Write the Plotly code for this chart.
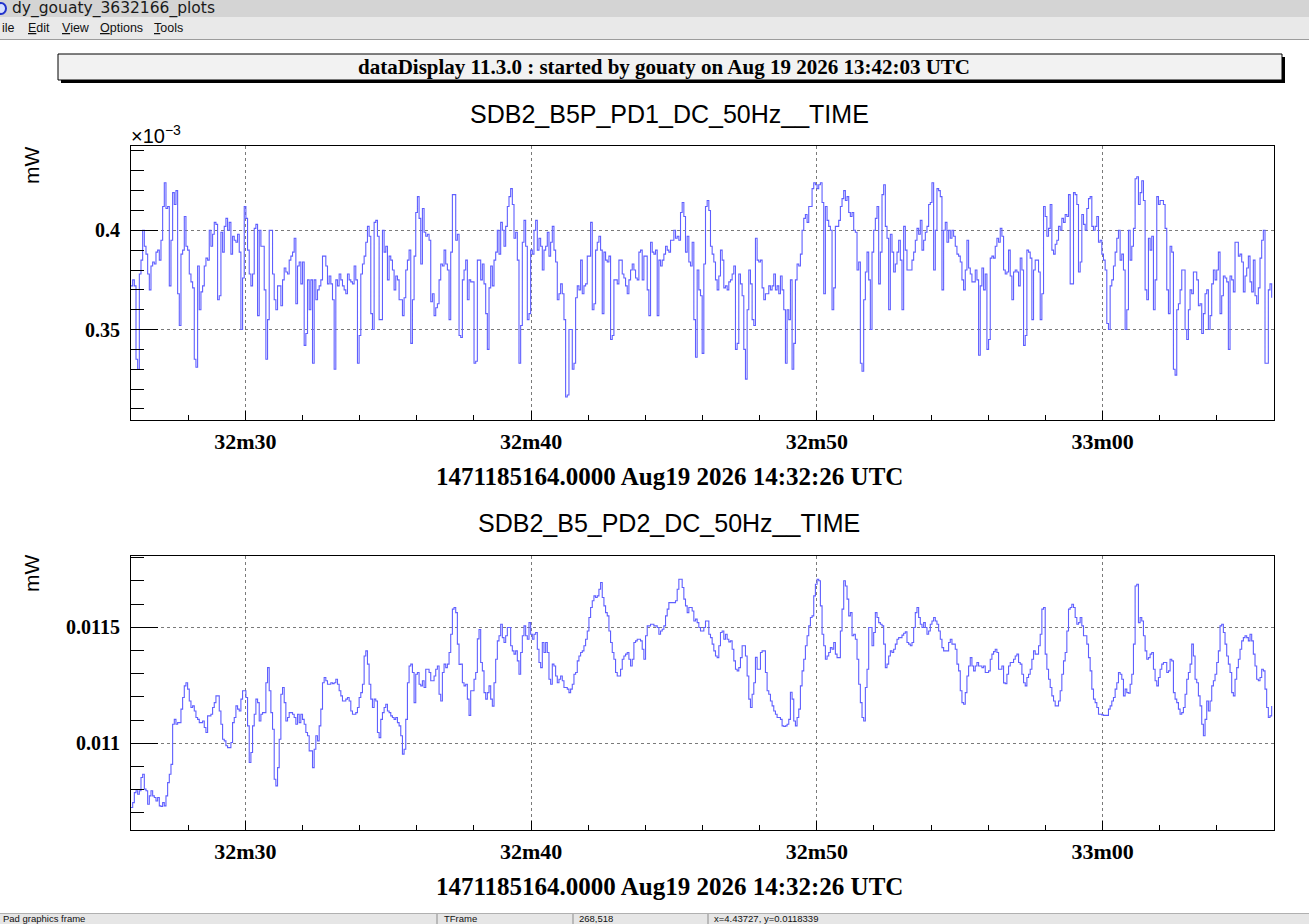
import numpy as np
import pandas as pd
import plotly.graph_objects as go

# ---------------- text content ----------------
WINDOW_TITLE = "dy_gouaty_3632166_plots"
MENU_ITEMS = ["ile", "<u>E</u>dit", "<u>V</u>iew", "<u>O</u>ptions", "<u>T</u>ools"]
HEADER = "dataDisplay 11.3.0 : started by gouaty on Aug 19 2026 13:42:03 UTC"
TITLES = ["SDB2_B5P_PD1_DC_50Hz__TIME", "SDB2_B5_PD2_DC_50Hz__TIME"]
X_TITLE = "1471185164.0000 Aug19 2026 14:32:26 UTC"
Y_UNIT = "mW"
STATUS = ["Pad graphics frame", "TFrame", "268,518", "x=4.43727, y=0.0118339"]

# ---------------- time base ----------------
T_START = "2026-08-19 14:32:26"
T_END = "2026-08-19 14:33:06"
T_FIRST_TICK = "2026-08-19 14:32:30"
SAMPLE_RATE_HZ = 17.16

# ---------------- SDB2_B5P_PD1 (units of 1e-3 mW), by 10 s block ----------------
pd1_32m26 = [
    0.372, 0.375, 0.372, 0.335, 0.330, 0.378, 0.385, 0.400, 0.392, 0.388,
    0.378, 0.370, 0.382, 0.384, 0.383, 0.389, 0.390, 0.385, 0.395, 0.412,
    0.424, 0.411, 0.412, 0.372, 0.395, 0.419, 0.413, 0.420, 0.368, 0.352,
    0.388, 0.390, 0.407, 0.392, 0.390, 0.378, 0.374, 0.371, 0.335, 0.331,
    0.382, 0.360, 0.369, 0.372, 0.382, 0.386, 0.385, 0.400, 0.392, 0.398,
    0.404, 0.403, 0.365, 0.367, 0.399, 0.389, 0.402, 0.406, 0.400, 0.404,
    0.388, 0.397, 0.395, 0.394, 0.398, 0.389, 0.350, 0.376, 0.412, 0.406,
    0.390, 0.378, 0.372, 0.378, 0.401, 0.403, 0.357, 0.400, 0.392, 0.392,
    0.370, 0.335, 0.355, 0.400, 0.400, 0.378, 0.365, 0.360, 0.372, 0.372,
    0.362, 0.375, 0.381, 0.379, 0.378, 0.385, 0.387, 0.389, 0.396, 0.363,
    0.382, 0.384, 0.373, 0.384, 0.342, 0.348, 0.375, 0.360, 0.375, 0.333,
    0.375, 0.365, 0.370, 0.372, 0.375, 0.387, 0.387, 0.382, 0.373, 0.377,
    0.373, 0.365, 0.330, 0.375, 0.372, 0.378, 0.375, 0.372, 0.370, 0.368,
    0.378, 0.375, 0.374, 0.373, 0.382, 0.375, 0.333, 0.347, 0.378, 0.383,
    0.387, 0.394, 0.402, 0.397, 0.358, 0.350, 0.404, 0.405, 0.397, 0.355,
    0.355, 0.400, 0.389, 0.392, 0.375, 0.387, 0.385, 0.380, 0.370, 0.377,
    0.375, 0.365, 0.365, 0.357, 0.366, 0.380, 0.385, 0.390, 0.343, 0.365,
    0.387, 0.409, 0.417, 0.406, 0.383,
]
pd1_32m36 = [
    0.411, 0.399, 0.397, 0.398, 0.395, 0.364, 0.368, 0.357, 0.361, 0.363,
    0.375, 0.383, 0.382, 0.390, 0.383, 0.380, 0.355, 0.389, 0.418, 0.418,
    0.395, 0.398, 0.347, 0.346, 0.375, 0.380, 0.385, 0.365, 0.375, 0.374,
    0.374, 0.333, 0.334, 0.385, 0.385, 0.375, 0.383, 0.373, 0.358, 0.340,
    0.371, 0.382, 0.372, 0.385, 0.389, 0.400, 0.388, 0.404, 0.400, 0.392,
    0.402, 0.412, 0.417, 0.421, 0.413, 0.396, 0.399, 0.385, 0.333, 0.352,
    0.394, 0.405, 0.392, 0.355, 0.358, 0.390, 0.388, 0.400, 0.405, 0.390,
    0.396, 0.392, 0.380, 0.390, 0.392, 0.399, 0.387, 0.394, 0.402, 0.390,
    0.384, 0.365, 0.368, 0.373, 0.368, 0.355, 0.316, 0.317, 0.350, 0.350,
    0.330, 0.333, 0.366, 0.372, 0.370, 0.385, 0.368, 0.372, 0.373, 0.387,
    0.387, 0.404, 0.360, 0.363, 0.390, 0.394, 0.397, 0.390, 0.358, 0.389,
    0.385, 0.384, 0.387, 0.345, 0.347, 0.375, 0.375, 0.373, 0.385, 0.385,
    0.378, 0.376, 0.372, 0.368, 0.375, 0.380, 0.383, 0.380, 0.376, 0.375,
    0.389, 0.390, 0.375, 0.387, 0.387, 0.370, 0.357, 0.394, 0.389, 0.388,
    0.390, 0.357, 0.385, 0.382, 0.385, 0.388, 0.392, 0.390, 0.389, 0.395,
    0.395, 0.400, 0.396, 0.397, 0.395, 0.409, 0.414, 0.407, 0.389, 0.397,
    0.384, 0.382, 0.394, 0.355, 0.336, 0.380, 0.370, 0.367, 0.338, 0.383,
    0.412, 0.415,
]
pd1_32m46 = [
    0.410, 0.392, 0.388, 0.384, 0.375, 0.370, 0.377, 0.390, 0.385, 0.371,
    0.372, 0.370, 0.374, 0.375, 0.378, 0.382, 0.340, 0.343, 0.378, 0.373,
    0.367, 0.340, 0.325, 0.360, 0.380, 0.373, 0.355, 0.352, 0.396, 0.385,
    0.384, 0.385, 0.371, 0.365, 0.368, 0.368, 0.372, 0.370, 0.372, 0.378,
    0.370, 0.372, 0.368, 0.377, 0.370, 0.360, 0.333, 0.360, 0.355, 0.375,
    0.330, 0.343, 0.375, 0.383, 0.382, 0.388, 0.400, 0.406, 0.408, 0.404,
    0.412, 0.412, 0.421, 0.424, 0.423, 0.421, 0.423, 0.424, 0.414, 0.368,
    0.412, 0.405, 0.402, 0.400, 0.360, 0.371, 0.402, 0.402, 0.405, 0.412,
    0.416, 0.420, 0.415, 0.417, 0.409, 0.407, 0.409, 0.400, 0.399, 0.380,
    0.384, 0.333, 0.329, 0.365, 0.379, 0.389, 0.375, 0.350, 0.389, 0.400,
    0.406, 0.412, 0.373, 0.389, 0.418, 0.423, 0.402, 0.396, 0.360, 0.398,
    0.389, 0.379, 0.383, 0.389, 0.395, 0.385, 0.360, 0.402, 0.390, 0.380,
    0.380, 0.380, 0.385, 0.389, 0.395, 0.401, 0.398, 0.405, 0.390, 0.395,
    0.399, 0.402, 0.413, 0.414, 0.424, 0.380, 0.400, 0.421, 0.420, 0.417,
    0.370, 0.400, 0.404, 0.394, 0.400, 0.396, 0.400, 0.397, 0.392, 0.388,
    0.387, 0.384, 0.375, 0.370, 0.380, 0.395, 0.381, 0.378, 0.374, 0.374,
    0.380, 0.375, 0.337, 0.372, 0.381, 0.370, 0.378, 0.340, 0.345, 0.386,
    0.387, 0.386,
]
pd1_32m56 = [
    0.392, 0.396, 0.394, 0.401, 0.397, 0.380, 0.378, 0.379, 0.390, 0.377,
    0.365, 0.379, 0.380, 0.379, 0.372, 0.386, 0.380, 0.342, 0.347, 0.390,
    0.389, 0.386, 0.355, 0.380, 0.385, 0.385, 0.379, 0.355, 0.368, 0.412,
    0.407, 0.397, 0.401, 0.413, 0.390, 0.388, 0.393, 0.395, 0.402, 0.400,
    0.406, 0.404, 0.408, 0.407, 0.418, 0.373, 0.373, 0.419, 0.418, 0.413,
    0.379, 0.384, 0.408, 0.403, 0.400, 0.411, 0.416, 0.417, 0.402, 0.400,
    0.402, 0.407, 0.394, 0.395, 0.388, 0.385, 0.380, 0.353, 0.350, 0.372,
    0.375, 0.382, 0.389, 0.396, 0.400, 0.385, 0.388, 0.380, 0.350, 0.360,
    0.400, 0.385, 0.392, 0.401, 0.426, 0.427, 0.413, 0.419, 0.425, 0.415,
    0.370, 0.365, 0.396, 0.390, 0.397, 0.360, 0.375, 0.417, 0.413, 0.415,
    0.415, 0.413, 0.401, 0.370, 0.358, 0.392, 0.389, 0.330, 0.327, 0.360,
    0.363, 0.370, 0.380, 0.380, 0.350, 0.345, 0.360, 0.370, 0.368, 0.379,
    0.379, 0.375, 0.362, 0.363, 0.348, 0.358, 0.368, 0.370, 0.350, 0.357,
    0.373, 0.380, 0.375, 0.380, 0.389, 0.358, 0.367, 0.377, 0.376, 0.374,
    0.340, 0.377, 0.375, 0.369, 0.394, 0.394, 0.387, 0.388, 0.384, 0.369,
    0.377, 0.381, 0.387, 0.374, 0.369, 0.385, 0.367, 0.363, 0.371, 0.386,
    0.395, 0.400, 0.333, 0.333, 0.370, 0.373, 0.366,
]

# ---------------- SDB2_B5_PD2 (units of 1e-3 mW), by 10 s block ----------------
pd2_32m26 = [
    10.723, 10.744, 10.787, 10.795, 10.780, 10.795, 10.852, 10.866, 10.802, 10.795,
    10.737, 10.773, 10.795, 10.773, 10.766, 10.751, 10.766, 10.730, 10.727, 10.744,
    10.730, 10.773, 10.830, 10.866, 10.909, 11.082, 11.103, 11.082, 11.089, 11.089,
    11.147, 11.197, 11.247, 11.261, 11.233, 11.182, 11.154, 11.161, 11.139, 11.111,
    11.103, 11.089, 11.089, 11.096, 11.068, 11.046, 11.118, 11.118, 11.125, 11.154,
    11.175, 11.204, 11.204, 11.139, 11.082, 11.017, 11.010, 10.989, 10.981, 10.981,
    11.003, 11.089, 11.111, 11.161, 11.147, 11.139, 11.190, 11.226, 11.226, 11.197,
    11.075, 10.917, 10.960, 11.075, 11.125, 11.190, 11.175, 11.096, 11.125, 11.132,
    11.132, 11.261, 11.326, 11.226, 11.132, 11.060, 10.845, 10.816, 10.895, 11.017,
    11.211, 11.240, 11.175, 11.096, 11.111, 11.132, 11.132, 11.125, 11.111, 11.082,
    11.125, 11.089, 11.125, 11.103, 11.082, 11.046, 11.032, 10.967, 10.967, 10.895,
    10.974, 11.032, 11.010, 11.075, 11.147, 11.261, 11.283, 11.269, 11.254, 11.254,
    11.261, 11.257, 11.261, 11.276, 11.254, 11.226, 11.204, 11.182, 11.182, 11.190,
    11.197, 11.182, 11.139, 11.125, 11.125, 11.132, 11.154, 11.197, 11.218, 11.254,
    11.376, 11.398, 11.341, 11.254, 11.190, 11.154, 11.190, 11.182, 11.046, 11.024,
    11.103, 11.132, 11.154, 11.168, 11.139, 11.132, 11.118, 11.111, 11.103, 11.111,
    11.089, 11.075, 11.032, 10.953, 10.974, 11.103, 11.261, 11.333, 11.341, 11.305,
    11.175, 11.297, 11.305, 11.254, 11.247,
]
pd2_32m36 = [
    11.269, 11.240, 11.319, 11.319, 11.305, 11.269, 11.269, 11.290, 11.319, 11.333,
    11.211, 11.182, 11.305, 11.341, 11.326, 11.341, 11.391, 11.470, 11.578, 11.585,
    11.563, 11.427, 11.340, 11.341, 11.261, 11.247, 11.254, 11.190, 11.120, 11.226,
    11.226, 11.276, 11.305, 11.450, 11.490, 11.348, 11.312, 11.218, 11.190, 11.218,
    11.247, 11.190, 11.160, 11.261, 11.362, 11.441, 11.463, 11.513, 11.455, 11.434,
    11.463, 11.499, 11.499, 11.420, 11.398, 11.384, 11.398, 11.355, 11.297, 11.391,
    11.463, 11.506, 11.463, 11.448, 11.520, 11.470, 11.448, 11.470, 11.477, 11.405,
    11.348, 11.326, 11.434, 11.391, 11.434, 11.391, 11.276, 11.254, 11.341, 11.333,
    11.290, 11.261, 11.276, 11.290, 11.269, 11.240, 11.240, 11.233, 11.218, 11.233,
    11.254, 11.297, 11.305, 11.355, 11.376, 11.391, 11.398, 11.420, 11.448, 11.484,
    11.542, 11.585, 11.614, 11.635, 11.628, 11.635, 11.664, 11.693, 11.628, 11.592,
    11.563, 11.549, 11.484, 11.434, 11.391, 11.362, 11.305, 11.290, 11.290, 11.319,
    11.362, 11.376, 11.384, 11.391, 11.362, 11.333, 11.362, 11.434, 11.441, 11.448,
    11.448, 11.441, 11.405, 11.362, 11.463, 11.506, 11.506, 11.513, 11.513, 11.506,
    11.506, 11.499, 11.470, 11.484, 11.491, 11.506, 11.549, 11.578, 11.606, 11.606,
    11.606, 11.606, 11.614, 11.664, 11.707, 11.707, 11.671, 11.621, 11.592, 11.563,
    11.585, 11.585, 11.570, 11.527, 11.535, 11.520, 11.499, 11.484, 11.484, 11.499,
    11.527, 11.527,
]
pd2_32m46 = [
    11.470, 11.455, 11.427, 11.398, 11.376, 11.369, 11.420, 11.477, 11.484, 11.448,
    11.470, 11.448, 11.437, 11.441, 11.405, 11.355, 11.319, 11.312, 11.326, 11.369,
    11.420, 11.420, 11.376, 11.290, 11.190, 11.154, 11.211, 11.261, 11.370, 11.319,
    11.319, 11.391, 11.398, 11.398, 11.305, 11.226, 11.211, 11.182, 11.161, 11.139,
    11.125, 11.111, 11.111, 11.103, 11.075, 11.072, 11.075, 11.082, 11.103, 11.220,
    11.190, 11.096, 11.075, 11.111, 11.147, 11.247, 11.312, 11.362, 11.420, 11.463,
    11.506, 11.542, 11.549, 11.635, 11.685, 11.707, 11.700, 11.592, 11.470, 11.420,
    11.362, 11.376, 11.391, 11.412, 11.405, 11.434, 11.384, 11.369, 11.369, 11.484,
    11.578, 11.700, 11.678, 11.621, 11.549, 11.563, 11.463, 11.470, 11.448, 11.362,
    11.254, 11.175, 11.111, 11.096, 11.240, 11.319, 11.499, 11.499, 11.420, 11.477,
    11.563, 11.542, 11.520, 11.513, 11.506, 11.427, 11.326, 11.341, 11.376, 11.398,
    11.391, 11.405, 11.427, 11.448, 11.455, 11.455, 11.466, 11.474, 11.480, 11.434,
    11.427, 11.420, 11.434, 11.499, 11.563, 11.585, 11.542, 11.513, 11.499, 11.520,
    11.499, 11.470, 11.484, 11.513, 11.527, 11.542, 11.527, 11.513, 11.484, 11.448,
    11.412, 11.398, 11.398, 11.398, 11.434, 11.448, 11.427, 11.427, 11.405, 11.341,
    11.312, 11.226, 11.175, 11.168, 11.218, 11.290, 11.333, 11.369, 11.333, 11.312,
    11.333, 11.348, 11.333, 11.333, 11.326, 11.333, 11.305, 11.305, 11.312, 11.362,
    11.384, 11.395,
]
pd2_32m56 = [
    11.405, 11.391, 11.319, 11.319, 11.333, 11.260, 11.257, 11.297, 11.333, 11.348,
    11.348, 11.362, 11.376, 11.384, 11.348, 11.341, 11.297, 11.261, 11.247, 11.283,
    11.297, 11.319, 11.362, 11.398, 11.384, 11.384, 11.420, 11.470, 11.578, 11.585,
    11.384, 11.319, 11.276, 11.240, 11.204, 11.182, 11.161, 11.161, 11.182, 11.226,
    11.297, 11.355, 11.391, 11.484, 11.578, 11.585, 11.599, 11.585, 11.542, 11.513,
    11.520, 11.542, 11.506, 11.463, 11.463, 11.427, 11.369, 11.312, 11.233, 11.190,
    11.175, 11.154, 11.125, 11.125, 11.122, 11.120, 11.120, 11.120, 11.147, 11.161,
    11.182, 11.197, 11.233, 11.261, 11.305, 11.297, 11.276, 11.204, 11.233, 11.218,
    11.216, 11.254, 11.297, 11.427, 11.678, 11.685, 11.520, 11.542, 11.527, 11.463,
    11.398, 11.362, 11.369, 11.384, 11.391, 11.319, 11.269, 11.247, 11.283, 11.319,
    11.341, 11.348, 11.348, 11.305, 11.312, 11.362, 11.355, 11.218, 11.190, 11.175,
    11.147, 11.125, 11.132, 11.154, 11.211, 11.276, 11.305, 11.341, 11.427, 11.376,
    11.276, 11.261, 11.204, 11.161, 11.082, 11.032, 11.103, 11.182, 11.139, 11.182,
    11.247, 11.269, 11.297, 11.348, 11.398, 11.506, 11.513, 11.477, 11.427, 11.376,
    11.341, 11.305, 11.218, 11.204, 11.276, 11.326, 11.362, 11.405, 11.441, 11.455,
    11.463, 11.455, 11.441, 11.470, 11.441, 11.384, 11.333, 11.276, 11.269, 11.283,
    11.319, 11.312, 11.233, 11.154, 11.111, 11.118, 11.161,
]

# ---------------- assemble series ----------------
pd1_e3 = pd1_32m26 + pd1_32m36 + pd1_32m46 + pd1_32m56          # x 1e-3 mW
pd2_mW = [v * 1e-3 for v in (pd2_32m26 + pd2_32m36 + pd2_32m46 + pd2_32m56)]


def times(n):
    return pd.Timestamp(T_START) + pd.to_timedelta(np.arange(n) / SAMPLE_RATE_HZ, unit="s")


# ---------------- geometry helpers (pixels -> paper) ----------------
W, H = 1309, 924
def px(x):
    return x / W
def py(y):
    return 1 - y / H

LINE_COLOR = "#5f5fff"
SERIF = "Liberation Serif"
SANS = "Liberation Sans"

fig = go.Figure()
fig.add_trace(go.Scatter(x=times(len(pd1_e3)), y=pd1_e3, mode="lines",
                         line=dict(color=LINE_COLOR, width=1.1, shape="hv"),
                         xaxis="x", yaxis="y", showlegend=False, hoverinfo="skip"))
fig.add_trace(go.Scatter(x=times(len(pd2_mW)), y=pd2_mW, mode="lines",
                         line=dict(color=LINE_COLOR, width=1.1, shape="hv"),
                         xaxis="x2", yaxis="y2", showlegend=False, hoverinfo="skip"))

xtickfont = dict(family=SERIF, size=22, color="black", weight="bold")
ytickfont = dict(family=SERIF, size=20, color="black", weight="bold")

def xaxis_cfg(anchor):
    return dict(
        domain=[px(131), px(1274)], anchor=anchor, type="date",
        range=[T_START, T_END], tick0=T_FIRST_TICK, dtick=10000, tickformat="%Mm%S",
        showline=True, mirror=True, linecolor="black", linewidth=1,
        ticks="inside", ticklen=9, tickcolor="black", tickwidth=1,
        tickfont=xtickfont, ticklabelstandoff=2,
        showgrid=True, gridcolor="#7a7a7a", gridwidth=1, griddash="dot",
        minor=dict(dtick=2000, ticks="inside", ticklen=5, tickcolor="black", showgrid=False),
        zeroline=False, fixedrange=True,
    )

def yaxis_cfg(anchor, top, bottom, rng, dtick, minor_dtick):
    return dict(
        domain=[py(bottom), py(top)], anchor=anchor, range=rng,
        tick0=0, dtick=dtick,
        showline=True, mirror=True, linecolor="black", linewidth=1,
        ticks="inside", ticklen=27, tickcolor="black", tickwidth=1,
        tickfont=ytickfont, ticklabelstandoff=6,
        showgrid=True, gridcolor="#7a7a7a", gridwidth=1, griddash="dot",
        minor=dict(dtick=minor_dtick, ticks="inside", ticklen=13, tickcolor="black", showgrid=False),
        zeroline=False, fixedrange=True,
    )

fig.update_layout(
    width=W, height=H, margin=dict(l=0, r=0, t=0, b=0),
    paper_bgcolor="white", plot_bgcolor="white", showlegend=False,
    xaxis=xaxis_cfg("y"),
    yaxis=yaxis_cfg("x", 146, 420, [0.3044, 0.4425], 0.05, 0.01),
    xaxis2=xaxis_cfg("y2"),
    yaxis2=yaxis_cfg("x2", 556, 830, [0.010626, 0.011807], 0.0005, 0.0001),
)

shapes = []
ann = []

# window title bar, menu bar, separator
shapes.append(dict(type="rect", xref="paper", yref="paper", x0=0, x1=1, y0=py(17), y1=1,
                   fillcolor="#d4d4d4", line=dict(width=0)))
shapes.append(dict(type="rect", xref="paper", yref="paper", x0=0, x1=1, y0=py(39), y1=py(17),
                   fillcolor="#e9e9e9", line=dict(width=0)))
shapes.append(dict(type="line", xref="paper", yref="paper", x0=0, x1=1, y0=py(39.5), y1=py(39.5),
                   line=dict(color="#9c9c9c", width=1)))
shapes.append(dict(type="circle", xref="paper", yref="paper", x0=px(-4), x1=px(6), y0=py(14), y1=py(3),
                   fillcolor="#d8e0ff", line=dict(color="#2233cc", width=2)))
ann.append(dict(x=px(10), y=py(9), xref="paper", yref="paper", text=WINDOW_TITLE, showarrow=False,
                xanchor="left", yanchor="middle", font=dict(family="DejaVu Sans", size=15.5, color="#1a1a1a")))
menu_x = [0, 26, 60, 98, 152]
for mx, item in zip(menu_x, MENU_ITEMS):
    ann.append(dict(x=px(mx), y=py(28), xref="paper", yref="paper", text=item, showarrow=False,
                    xanchor="left", yanchor="middle", font=dict(family=SANS, size=12.5, color="#111")))

# header box with shadow
shapes.append(dict(type="rect", xref="paper", yref="paper", x0=px(61), x1=px(1285), y0=py(83), y1=py(57),
                   fillcolor="black", line=dict(width=0)))
shapes.append(dict(type="rect", xref="paper", yref="paper", x0=px(58), x1=px(1282), y0=py(80), y1=py(54),
                   fillcolor="#f2f2f2", line=dict(color="black", width=1)))
ann.append(dict(x=px(664), y=py(67), xref="paper", yref="paper", text="<b>%s</b>" % HEADER,
                showarrow=False, xanchor="center", yanchor="middle",
                font=dict(family=SERIF, size=21, color="black")))

# pad titles, units, axis titles
for title, ty, uy, xty in [(TITLES[0], 114, 165, 476), (TITLES[1], 523, 573, 886)]:
    ann.append(dict(x=px(669), y=py(ty), xref="paper", yref="paper", text=title, showarrow=False,
                    xanchor="center", yanchor="middle", font=dict(family=SANS, size=25, color="black")))
    ann.append(dict(x=px(31), y=py(uy), xref="paper", yref="paper", text=Y_UNIT, showarrow=False,
                    textangle=-90, xanchor="center", yanchor="middle",
                    font=dict(family=SANS, size=21, color="black")))
    ann.append(dict(x=px(669), y=py(xty), xref="paper", yref="paper", text="<b>%s</b>" % X_TITLE,
                    showarrow=False, xanchor="center", yanchor="middle",
                    font=dict(family=SERIF, size=25, color="black")))
ann.append(dict(x=px(129), y=py(134), xref="paper", yref="paper", text="\u00d710<sup>\u22123</sup>",
                showarrow=False, xanchor="left", yanchor="middle",
                font=dict(family=SANS, size=20, color="black")))

# status bar
shapes.append(dict(type="rect", xref="paper", yref="paper", x0=0, x1=1, y0=0, y1=py(913),
                   fillcolor="#e6e6e6", line=dict(width=0)))
shapes.append(dict(type="line", xref="paper", yref="paper", x0=0, x1=1, y0=py(913.5), y1=py(913.5),
                   line=dict(color="#b0b0b0", width=1)))
for sx in [437, 573, 708]:
    shapes.append(dict(type="line", xref="paper", yref="paper", x0=px(sx), x1=px(sx), y0=0, y1=py(914),
                       line=dict(color="#8c8c8c", width=1)))
for sx, txt in zip([1, 442, 577, 712], STATUS):
    ann.append(dict(x=px(sx), y=py(918.5), xref="paper", yref="paper", text=txt, showarrow=False,
                    xanchor="left", yanchor="middle", font=dict(family=SANS, size=9.5, color="#111")))

fig.update_layout(shapes=shapes, annotations=ann)

fig.write_html("out.html", config={"displayModeBar": False},
               post_script="document.body.style.margin='0';document.body.style.overflow='hidden';")
